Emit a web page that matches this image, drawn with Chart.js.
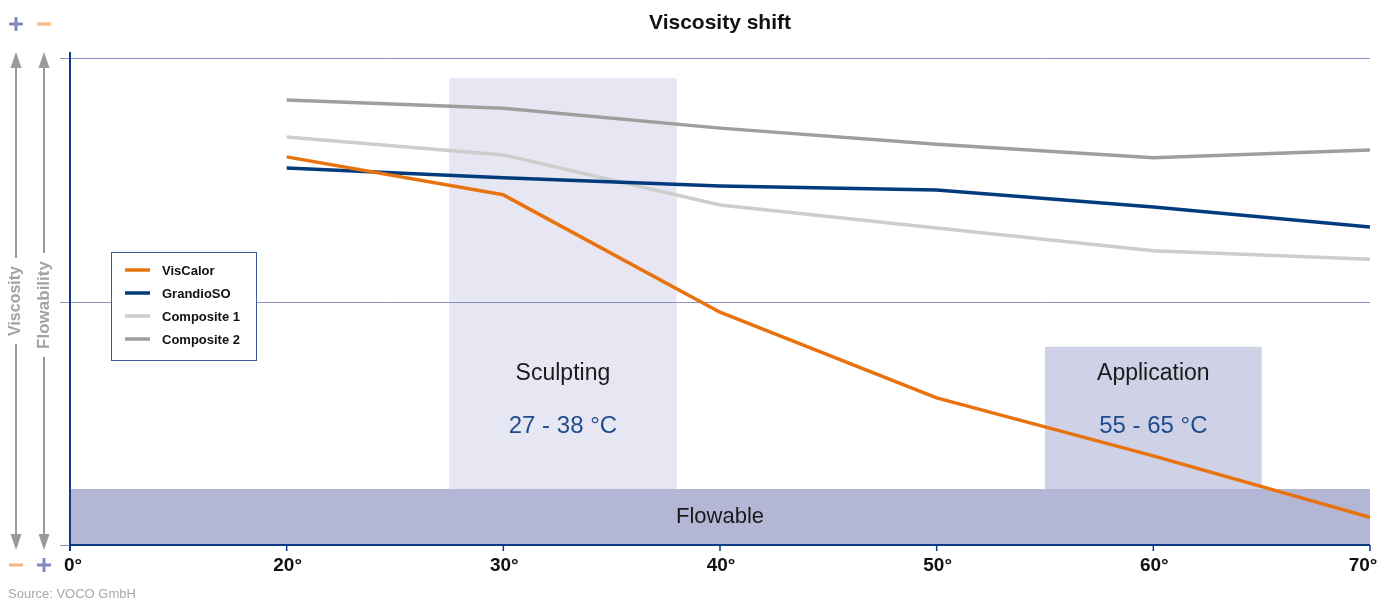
<!DOCTYPE html>
<html>
<head>
<meta charset="utf-8">
<script src="https://cdn.jsdelivr.net/npm/chart.js@4.4.1/dist/chart.umd.min.js"></script>
<style>
html,body{margin:0;padding:0;background:#fff;}
#wrap{width:1392px;height:601px;position:relative;}
</style>
</head>
<body>
<div id="wrap"><canvas id="c" width="1392" height="601"></canvas></div>
<script>
// ---- data ----
const tickTemps = [0, 20, 30, 40, 50, 60, 70];
const tickLabels = ['0°', '20°', '30°', '40°', '50°', '60°', '70°'];
const temps = [20, 30, 40, 50, 60, 70];
const visCalor = [79.7, 71.9, 47.8, 30.2, 18.3, 5.7];
const grandioSO = [77.4, 75.4, 73.7, 72.9, 69.4, 65.3];
const composite1 = [83.8, 80.1, 69.8, 65.1, 60.4, 58.7];
const composite2 = [91.4, 89.7, 85.6, 82.3, 79.5, 81.1];
const seriesNames = ['VisCalor', 'GrandioSO', 'Composite 1', 'Composite 2'];
const seriesColors = ['#e8730e', '#033a7e', '#cdcdcd', '#9e9e9e'];
const sculptingRange = [27.5, 38];   // temperature
const sculptingTop = 95.9;
const applicationRange = [55, 65];
const applicationTop = 40.7;
const flowableTop = 11.5;
const gridValues = [50, 100];

function tempToPos(t) {
  for (let i = 0; i < tickTemps.length - 1; i++) {
    if (t <= tickTemps[i + 1]) {
      return i + (t - tickTemps[i]) / (tickTemps[i + 1] - tickTemps[i]);
    }
  }
  return tickTemps.length - 1;
}
function pts(arr) { return temps.map((t, i) => ({ x: tempToPos(t), y: arr[i] })); }

const FONT = '"Liberation Sans", Arial, sans-serif';
const AXIS = '#0b3a86';
const GRID = '#8890c6';

const decor = {
  id: 'decor',
  beforeDatasetsDraw(chart) {
    const { ctx, scales: { x, y }, chartArea: ca } = chart;
    ctx.save();
    // sculpting box
    ctx.fillStyle = '#e6e7f2';
    let x0 = x.getPixelForValue(tempToPos(sculptingRange[0]));
    let x1 = x.getPixelForValue(tempToPos(sculptingRange[1]));
    ctx.fillRect(x0, y.getPixelForValue(sculptingTop), x1 - x0, y.getPixelForValue(0) - y.getPixelForValue(sculptingTop));
    // application box
    ctx.fillStyle = '#cfd1e6';
    let a0 = x.getPixelForValue(tempToPos(applicationRange[0]));
    let a1 = x.getPixelForValue(tempToPos(applicationRange[1]));
    ctx.fillRect(a0, y.getPixelForValue(applicationTop), a1 - a0, y.getPixelForValue(0) - y.getPixelForValue(applicationTop));
    // flowable band
    ctx.fillStyle = '#b3b6d5';
    ctx.fillRect(ca.left, y.getPixelForValue(flowableTop), ca.right - ca.left, y.getPixelForValue(0) - y.getPixelForValue(flowableTop));
    // gridlines
    ctx.strokeStyle = GRID; ctx.lineWidth = 1;
    gridValues.forEach(v => {
      const py = Math.round(y.getPixelForValue(v)) + 0.5;
      ctx.beginPath(); ctx.moveTo(ca.left - 10, py); ctx.lineTo(ca.right, py); ctx.stroke();
    });
    const py0 = Math.round(y.getPixelForValue(0)) + 0.5;
    ctx.beginPath(); ctx.moveTo(ca.left - 10, py0); ctx.lineTo(ca.left, py0); ctx.stroke();
    // texts
    ctx.textAlign = 'center'; ctx.textBaseline = 'middle';
    ctx.fillStyle = '#1a1a1a';
    ctx.font = '23px ' + FONT;
    ctx.fillText('Sculpting', (x0 + x1) / 2, 374);
    ctx.fillText('Application', (a0 + a1) / 2, 374);
    ctx.font = '22px ' + FONT;
    ctx.fillText('Flowable', (ca.left + ca.right) / 2, 517);
    ctx.fillStyle = '#1f4b8f';
    ctx.font = '24px ' + FONT;
    ctx.fillText('27 - 38 °C', (x0 + x1) / 2, 426);
    ctx.fillText('55 - 65 °C', (a0 + a1) / 2, 426);
    ctx.restore();
  },
  afterDatasetsDraw(chart) {
    const { ctx, scales: { x, y }, chartArea: ca } = chart;
    ctx.save();
    ctx.strokeStyle = AXIS; ctx.lineWidth = 2;
    const by = y.getPixelForValue(0);
    ctx.beginPath(); ctx.moveTo(ca.left, y.getPixelForValue(100) - 6); ctx.lineTo(ca.left, by + 6); ctx.stroke();
    ctx.beginPath(); ctx.moveTo(ca.left, by); ctx.lineTo(ca.right, by); ctx.stroke();
    ctx.lineWidth = 1.5;
    tickLabels.forEach((lab, i) => {
      const px = x.getPixelForValue(i);
      ctx.beginPath(); ctx.moveTo(px, by); ctx.lineTo(px, by + 6); ctx.stroke();
    });
    ctx.fillStyle = '#111';
    ctx.font = 'bold 19px ' + FONT;
    ctx.textAlign = 'center'; ctx.textBaseline = 'middle';
    tickLabels.forEach((lab, i) => {
      let px = x.getPixelForValue(i) + 1;
      if (i === 0) px += 2;
      if (i === tickLabels.length - 1) px -= 8;
      ctx.fillText(lab, px, 566);
    });
    ctx.restore();
  },
  afterDraw(chart) {
    const { ctx, chartArea: ca } = chart;
    ctx.save();
    // title
    ctx.fillStyle = '#111';
    ctx.font = 'bold 21px ' + FONT;
    ctx.textAlign = 'center'; ctx.textBaseline = 'middle';
    ctx.fillText('Viscosity shift', (ca.left + ca.right) / 2, 23);
    // legend
    ctx.fillStyle = '#fff';
    ctx.fillRect(111, 252, 145, 108);
    ctx.strokeStyle = '#3b5a98'; ctx.lineWidth = 1;
    ctx.strokeRect(111.5, 252.5, 145, 108);
    ctx.font = 'bold 13px ' + FONT;
    ctx.textAlign = 'left';
    chart.data.datasets.forEach((ds, i) => {
      const ry = 270 + i * 23;
      ctx.strokeStyle = ds.borderColor; ctx.lineWidth = 3.5;
      ctx.beginPath(); ctx.moveTo(125, ry); ctx.lineTo(150, ry); ctx.stroke();
      ctx.fillStyle = '#111';
      ctx.fillText(ds.label, 162, ry + 1);
    });
    // side arrows
    const grey = '#9a9a9a';
    function arrowAxis(cx, label, cy, fontPx) {
      ctx.font = 'bold ' + fontPx + 'px ' + FONT;
      const w = ctx.measureText(label).width;
      const t0 = cy - w / 2 - 8, t1 = cy + w / 2 + 8;
      ctx.strokeStyle = grey; ctx.lineWidth = 2;
      ctx.beginPath(); ctx.moveTo(cx, 66); ctx.lineTo(cx, t0); ctx.stroke();
      ctx.beginPath(); ctx.moveTo(cx, t1); ctx.lineTo(cx, 536); ctx.stroke();
      ctx.fillStyle = grey;
      ctx.beginPath(); ctx.moveTo(cx, 52); ctx.lineTo(cx - 5.5, 68); ctx.lineTo(cx + 5.5, 68); ctx.closePath(); ctx.fill();
      ctx.beginPath(); ctx.moveTo(cx, 550); ctx.lineTo(cx - 5.5, 534); ctx.lineTo(cx + 5.5, 534); ctx.closePath(); ctx.fill();
      ctx.save();
      ctx.translate(cx, cy); ctx.rotate(-Math.PI / 2);
      ctx.fillStyle = '#a3a3a3';
      ctx.textAlign = 'center'; ctx.textBaseline = 'middle';
      ctx.fillText(label, 0, 0);
      ctx.restore();
    }
    arrowAxis(16, 'Viscosity', 301, 16);
    arrowAxis(44, 'Flowability', 305, 17);
    // plus / minus signs
    function plus(cx, cy) {
      ctx.fillStyle = '#8289bf';
      ctx.fillRect(cx - 7, cy - 1.5, 14, 3);
      ctx.fillRect(cx - 1.5, cy - 7, 3, 14);
    }
    function minus(cx, cy) {
      ctx.fillStyle = '#f6b67c';
      ctx.fillRect(cx - 7, cy - 1.5, 14, 3);
    }
    plus(16, 24); minus(44, 24);
    minus(16, 565); plus(44, 565);
    // source
    ctx.fillStyle = '#a8a8a8';
    ctx.font = '13px ' + FONT;
    ctx.textAlign = 'left'; ctx.textBaseline = 'alphabetic';
    ctx.fillText('Source: VOCO GmbH', 8, 598);
    ctx.restore();
  }
};

const seriesData = [visCalor, grandioSO, composite1, composite2];
new Chart(document.getElementById('c'), {
  type: 'line',
  data: {
    datasets: seriesNames.map((n, i) => ({
      label: n,
      data: pts(seriesData[i]),
      borderColor: seriesColors[i],
      backgroundColor: seriesColors[i],
      borderWidth: 3.5,
      pointRadius: 0,
      tension: 0,
      fill: false,
      borderJoinStyle: 'round'
    }))
  },
  options: {
    responsive: false,
    animation: false,
    devicePixelRatio: 1,
    layout: { padding: { left: 70, right: 22, top: 58, bottom: 56 } },
    scales: {
      x: { type: 'linear', min: 0, max: tickTemps.length - 1, display: false },
      y: { type: 'linear', min: 0, max: 100, display: false }
    },
    plugins: { legend: { display: false }, tooltip: { enabled: false }, title: { display: false } }
  },
  plugins: [decor]
});
</script>
</body>
</html>
